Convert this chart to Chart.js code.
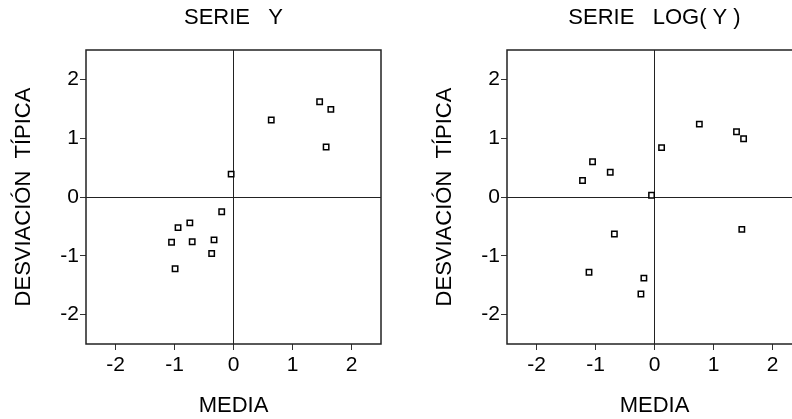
<!DOCTYPE html>
<html>
<head>
<meta charset="utf-8">
<script src="https://cdn.jsdelivr.net/npm/chart.js@4/dist/chart.umd.min.js"></script>
<style>
  html, body { margin: 0; padding: 0; background: #fff; overflow: hidden; }
  #wrap { position: relative; width: 792px; height: 419px; overflow: hidden; }
  .box { position: absolute; top: 0; width: 421px; height: 419px; }
</style>
</head>
<body>
<div id="wrap">
  <div class="box" style="left:0"><canvas id="serieY" width="421" height="419"></canvas></div>
  <div class="box" style="left:421px"><canvas id="serieLog" width="421" height="419"></canvas></div>
</div>
<script>
// ---------- data ----------
const tickValues = [-2, -1, 0, 1, 2];

const serieYMedia = [1.46, 1.65, 0.64, 1.57, -0.04, -0.2, -0.74, -0.94, -1.05, -0.7, -0.33, -0.37, -0.99];
const serieYDesv  = [1.62, 1.49, 1.31, 0.85, 0.39, -0.25, -0.44, -0.52, -0.77, -0.76, -0.73, -0.96, -1.22];

const serieLogMedia = [0.76, 1.39, 1.51, 0.12, -1.05, -0.75, -1.22, -0.05, 1.48, -0.68, -1.11, -0.18, -0.23];
const serieLogDesv  = [1.24, 1.11, 0.99, 0.84, 0.60, 0.42, 0.28, 0.03, -0.55, -0.63, -1.28, -1.38, -1.65];

// ---------- defaults ----------
const FONT = "Arial, 'Liberation Sans', sans-serif";
Chart.defaults.font.family = FONT;
Chart.defaults.color = "#000";

// frame around the plot area
const framePlugin = {
  id: "frame",
  beforeDatasetsDraw(chart) {
    const {ctx, chartArea: a} = chart;
    ctx.save();
    ctx.strokeStyle = "#222";
    ctx.lineWidth = 1.5;
    ctx.strokeRect(a.left, a.top, a.right - a.left, a.bottom - a.top);
    ctx.restore();
  },
};

const axis = (title, isX) => ({
  type: "linear",
  min: -2.5,
  max: 2.5,
  afterBuildTicks: (scale) => {
    scale.ticks = tickValues.map((v) => ({value: v}));
  },
  afterFit: (scale) => {
    if (isX) scale.height = 75;
    else scale.width = 86;
  },
  border: {display: false},
  grid: {
    color: (c) => (c.tick && c.tick.value === 0 ? "#222" : "rgba(0,0,0,0)"),
    lineWidth: 1,
    tickColor: "#333",
    tickLength: 6,
  },
  ticks: {
    font: {size: 21},
    padding: isX ? 3 : 1,
    color: "#000",
  },
  title: {
    display: true,
    text: title,
    font: {size: 22},
    color: "#000",
    padding: isX ? {top: 0, bottom: 0} : {top: 11, bottom: 0},
  },
});

function makeChart(id, titleText, xs, ys) {
  return new Chart(document.getElementById(id), {
    type: "scatter",
    data: {
      datasets: [{
        data: xs.map((x, i) => ({x, y: ys[i]})),
        pointStyle: "rect",
        pointRadius: 3.8,
        borderColor: "#000",
        backgroundColor: "#fff",
        borderWidth: 1.5,
      }],
    },
    options: {
      responsive: false,
      animation: false,
      devicePixelRatio: 1,
      layout: {padding: {left: 0, right: 40, top: 0, bottom: 0}},
      plugins: {
        legend: {display: false},
        tooltip: {enabled: false},
        title: {
          display: true,
          text: titleText,
          fullSize: false,
          font: {size: 22, weight: "normal"},
          color: "#000",
          padding: {top: 5, bottom: 18.6},
        },
      },
      scales: {
        x: axis("MEDIA", true),
        y: axis("DESVIACIÓN  TÍPICA", false),
      },
    },
    plugins: [framePlugin],
  });
}

makeChart("serieY", "SERIE   Y", serieYMedia, serieYDesv);
makeChart("serieLog", "SERIE   LOG( Y )", serieLogMedia, serieLogDesv);
</script>
</body>
</html>
